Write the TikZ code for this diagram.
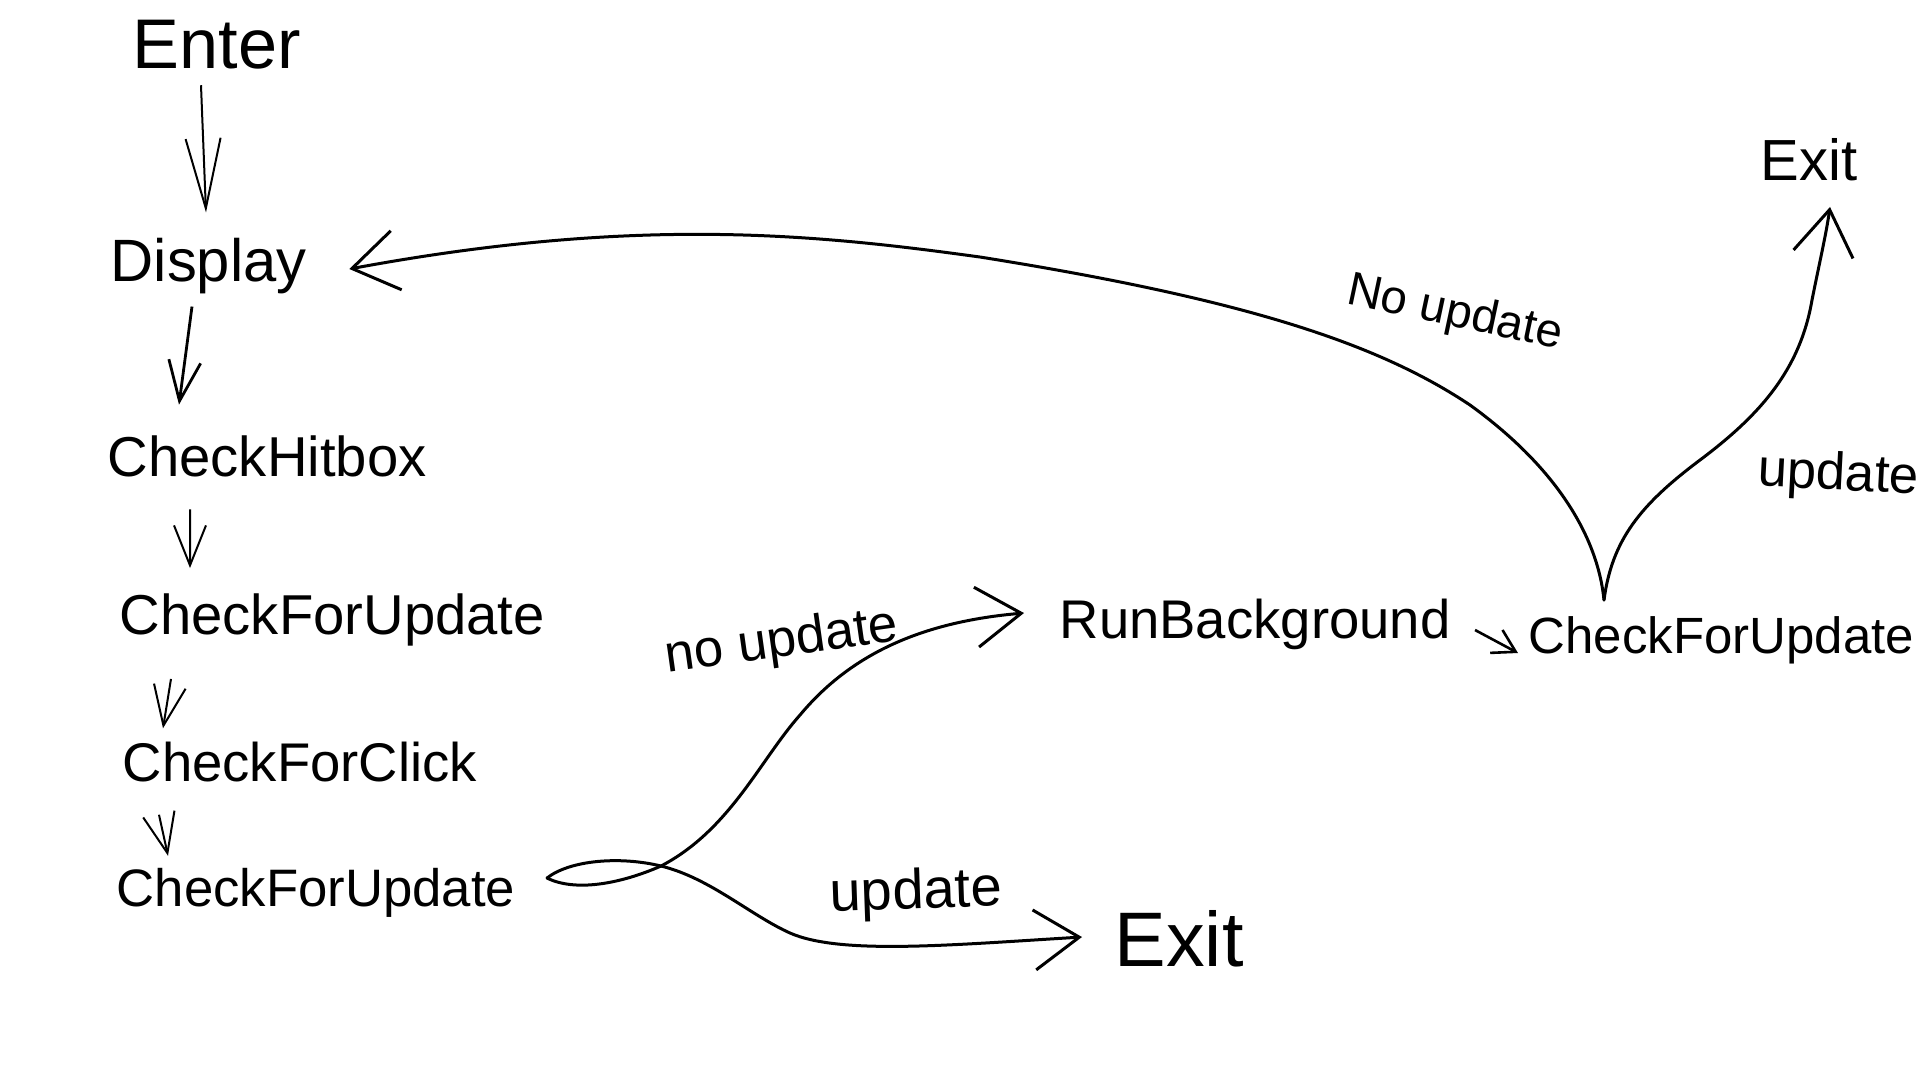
\documentclass[tikz,border=0pt]{standalone}
\usepackage{fontspec}
\setmainfont{Liberation Sans}
\usetikzlibrary{arrows.meta}
\tikzset{
  txt/.style={font=\fontsize{#1}{#1}\selectfont, inner sep=0pt, anchor=west},
  lbl/.style={font=\fontsize{#1}{#1}\selectfont, inner sep=0pt},
  thinarr/.style={line width=0.2mm, -{Straight Barb[length=4mm,width=3.2mm]}},
  curve/.style={line width=0.3mm, line cap=round},
  bigarr/.style={curve, -{Straight Barb[length=4.5mm,width=6mm]}}
}
\begin{document}
\begin{tikzpicture}[x=0.1mm,y=-0.1mm]
\fill[white] (0,0) rectangle (1920,1080);
\useasboundingbox (0,0) rectangle (1920,1080);

% left column
\node[txt=20pt] (enter) at (132,45) {Enter};
\node[txt=17pt] (display) at (110,266) {Display};
\node[txt=16pt] (hitbox) at (107,456) {CheckHitbox};
\node[txt=16pt] (cfu1) at (119,620) {CheckForUpdate};
\node[txt=15.5pt] (cfc) at (122,762) {CheckForClick};
\node[txt=15pt] (cfu2) at (116,893) {CheckForUpdate};

% right part
\node[txt=15.5pt] (run) at (1059,624) {RunBackground};
\node[txt=14.5pt] (cfu3) at (1528,640) {CheckForUpdate};
\node[txt=22pt] (exit1) at (1114,939) {Exit};
\node[txt=16.5pt] (exit2) at (1760,160) {Exit};

% labels
\node[lbl=15pt, rotate=8] (l1) at (782,643) {no update};
\node[lbl=16pt, rotate=2] (l2) at (916,894) {update};
\node[lbl=13.5pt, rotate=-12] (l3) at (1455,314) {No update};
\node[lbl=15pt, rotate=-3, anchor=west] (l4) at (1757,472) {update};

% vertical arrows
\draw[thinarr, -{Straight Barb[length=7mm,width=3.5mm]}] ([xshift=6.9mm,yshift=-1.5mm]enter.south west) -- ([xshift=9.6mm,yshift=2.5mm]display.north west);
\draw[thinarr, line width=0.28mm] ([xshift=8.2mm,yshift=-1.2mm]display.south west) -- ([xshift=7.2mm,yshift=3mm]hitbox.north west);
\draw[thinarr] ([xshift=8.3mm,yshift=-3.2mm]hitbox.south west) -- ([xshift=7.1mm,yshift=2.5mm]cfu1.north west);
\draw[thinarr] ([xshift=5.2mm,yshift=-3.2mm]cfu1.south west) -- ([xshift=4.1mm,yshift=1.3mm]cfc.north west);
\draw[thinarr] ([xshift=3.7mm,yshift=-3.2mm]cfc.south west) -- ([xshift=5.2mm,yshift=1.2mm]cfu2.north west);

% short arrow
\draw[thinarr, line width=0.26mm, -{Straight Barb[length=2.2mm,width=2.6mm]}] ([xshift=2.4mm,yshift=-0.6mm]run.east) -- ([xshift=-1mm,yshift=-1.3mm]cfu3.west);

% forks
\coordinate (f1) at (547,878);
\coordinate (f2) at (1604,600);

% no update -> RunBackground
\draw[bigarr] (f1) .. controls (575,892) and (620,884) .. (661,866)
  .. controls (730,830) and (760,760) .. (800,715)
  .. controls (850,655) and (920,622) .. ([xshift=-3.5mm,yshift=1.1mm]run.west);
% update -> Exit
\draw[bigarr] (f1) .. controls (570,860) and (620,856) .. (661,866)
  .. controls (710,878) and (750,915) .. (790,933)
  .. controls (840,955) and (950,945) .. ([xshift=-3.2mm,yshift=0.2mm]exit1.west);
% No update -> Display
\draw[bigarr] (f2) .. controls (1598,540) and (1560,470) .. (1470,405)
  .. controls (1380,345) and (1250,300) .. (980,257)
  .. controls (820,235) and (640,215) .. ([xshift=4.2mm,yshift=-0.3mm]display.east);
% update -> Exit
\draw[bigarr] (f2) .. controls (1612,540) and (1640,505) .. (1700,460)
  .. controls (1760,415) and (1800,370) .. (1812,300)
  .. controls (1820,260) and (1826,235) .. ([xshift=7mm,yshift=-2.5mm]exit2.south west);
\end{tikzpicture}
\end{document}
